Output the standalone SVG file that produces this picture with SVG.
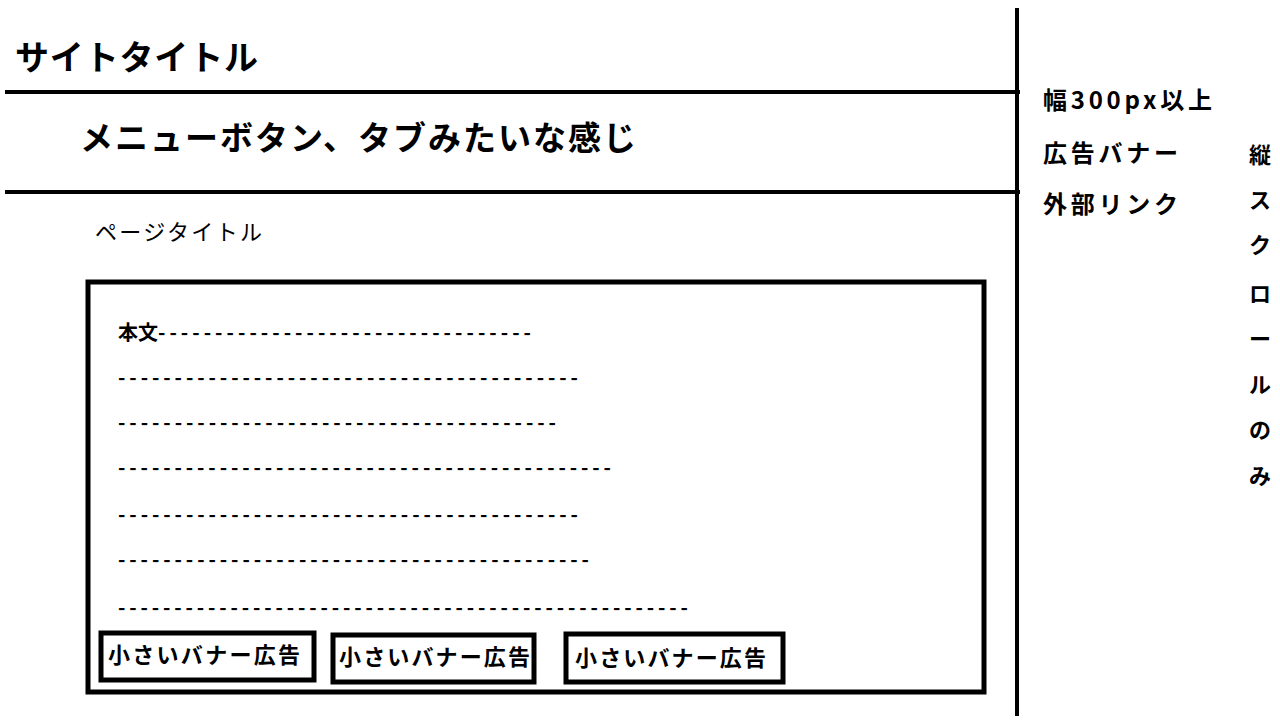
<svg xmlns="http://www.w3.org/2000/svg" width="1280" height="720" viewBox="0 0 1280 720">
<style>
text{font-family:"Noto Sans CJK JP","Noto Sans",sans-serif;font-weight:bold;fill:#000}
.ln{stroke:#000;stroke-width:4;fill:none}
.bx{stroke:#000;stroke-width:5;fill:none}
.d{font-size:20px}
.b{font-size:22px}
.r{font-size:24px}
.v{font-size:22px;text-anchor:middle}
</style>
<rect width="1280" height="720" fill="#fff"/>
<g id="frame">
<line class="ln" x1="1017" y1="8" x2="1017" y2="716"/>
<line class="ln" x1="5" y1="92" x2="1020" y2="92"/>
<line class="ln" x1="5" y1="192" x2="1020" y2="192"/>
</g>
<g id="header">
<text x="15" y="70" font-size="34" textLength="243" lengthAdjust="spacing">サイトタイトル</text>
<text x="80" y="150" font-size="33" textLength="556" lengthAdjust="spacing">メニューボタン、タブみたいな感じ</text>
<text x="95" y="240" font-size="22" style="font-weight:normal" textLength="167" lengthAdjust="spacing">ページタイトル</text>
</g>
<g id="body">
<rect class="bx" x="88" y="282" width="896" height="410"/>
<text class="d" x="118" y="340">本文<tspan textLength="373" lengthAdjust="spacing">---------------------------------</tspan></text>
<text class="d" x="118" y="385" textLength="460" lengthAdjust="spacing">-----------------------------------------</text>
<text class="d" x="118" y="430" textLength="438" lengthAdjust="spacing">---------------------------------------</text>
<text class="d" x="118" y="475" textLength="493" lengthAdjust="spacing">--------------------------------------------</text>
<text class="d" x="118" y="522" textLength="460" lengthAdjust="spacing">-----------------------------------------</text>
<text class="d" x="118" y="567" textLength="471" lengthAdjust="spacing">------------------------------------------</text>
<text class="d" x="118" y="615" textLength="570" lengthAdjust="spacing">---------------------------------------------------</text>
</g>
<g id="banner1"><rect class="bx" x="101" y="633" width="213" height="47"/><text class="b" x="108" y="663" textLength="192" lengthAdjust="spacing">小さいバナー広告</text></g>
<g id="banner2"><rect class="bx" x="333" y="635" width="201" height="47"/><text class="b" x="339" y="665" textLength="191" lengthAdjust="spacing">小さいバナー広告</text></g>
<g id="banner3"><rect class="bx" x="566" y="634" width="217" height="48"/><text class="b" x="575" y="666" textLength="191" lengthAdjust="spacing">小さいバナー広告</text></g>
<g id="sidebar">
<text class="r" x="1043" y="109" textLength="169" lengthAdjust="spacing">幅300px以上</text>
<text class="r" x="1043" y="162" textLength="135" lengthAdjust="spacing">広告バナー</text>
<text class="r" x="1043" y="213" textLength="135" lengthAdjust="spacing">外部リンク</text>
</g>
<g id="vertical">
<text class="v" x="1260" y="163">縦</text>
<text class="v" x="1260" y="208">ス</text>
<text class="v" x="1260" y="253">ク</text>
<text class="v" x="1260" y="302">ロ</text>
<text class="v" x="1260" y="347">ー</text>
<text class="v" x="1260" y="393">ル</text>
<text class="v" x="1260" y="438">の</text>
<text class="v" x="1260" y="484">み</text>
</g>
</svg>
